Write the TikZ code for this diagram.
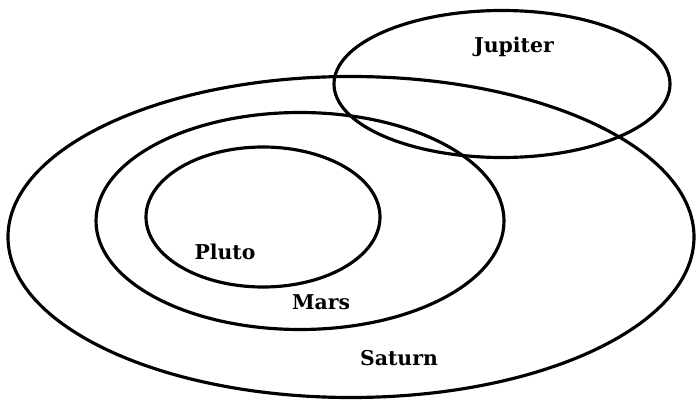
\documentclass[tikz,border=0pt]{standalone}
\usepackage{fontspec}
\setmainfont{DejaVu Serif}
\usetikzlibrary{shapes.geometric}

\begin{document}
\begin{tikzpicture}[
  x=0.02cm, y=-0.02cm,
  set/.style={draw,ellipse,line width=1.8pt,inner sep=0pt},
  setlabel/.style={font=\bfseries\fontsize{11.6}{13}\selectfont}
]
  \useasboundingbox (0,0) rectangle (696,402);

  \node[set,minimum width=686*0.02cm,minimum height=321*0.02cm] (saturn) at (351,237) {};
  \node[set,minimum width=408*0.02cm,minimum height=217*0.02cm] (mars) at (300,221) {};
  \node[set,minimum width=234*0.02cm,minimum height=140*0.02cm] (pluto) at (263,217) {};
  \node[set,minimum width=336*0.02cm,minimum height=147*0.02cm] (jupiter) at (502,84) {};

  \node[setlabel] (jupiter-label) at (514,47) {Jupiter};
  \node[setlabel] (pluto-label) at (225,252) {Pluto};
  \node[setlabel] (mars-label) at (321,302) {Mars};
  \node[setlabel] (saturn-label) at (399,358) {Saturn};
\end{tikzpicture}
\end{document}
